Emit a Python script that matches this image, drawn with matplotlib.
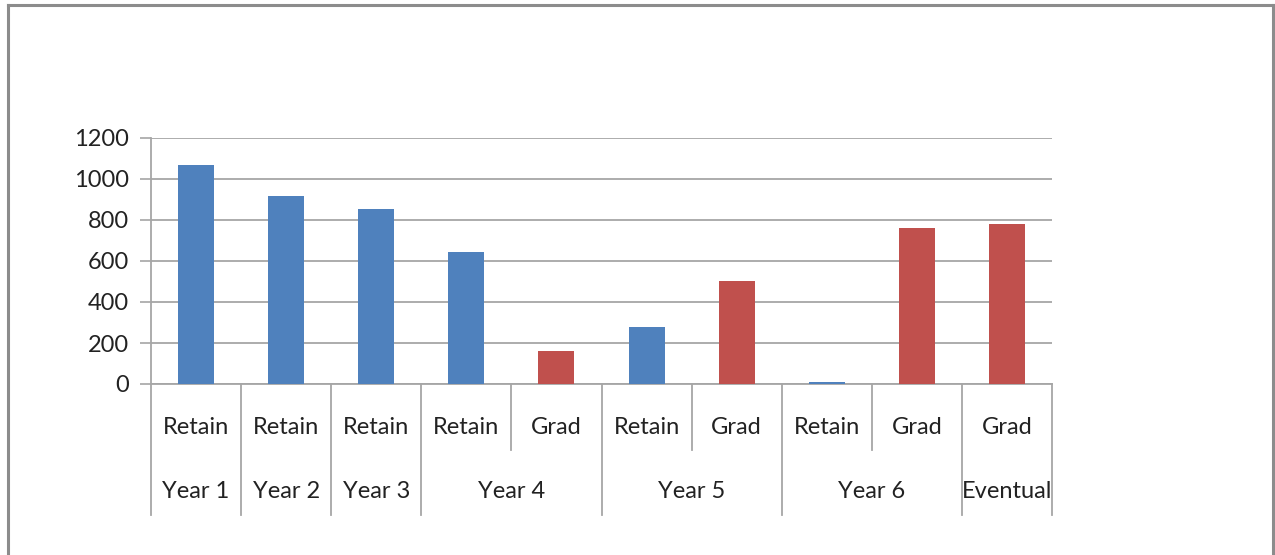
import numpy as np
import matplotlib.pyplot as plt
from matplotlib.lines import Line2D
from matplotlib.transforms import blended_transform_factory

# data
sub_labels = ["Retain", "Retain", "Retain", "Retain", "Grad",
              "Retain", "Grad", "Retain", "Grad", "Grad"]
groups = ["Year 1", "Year 2", "Year 3", "Year 4", "Year 5", "Year 6", "Eventual"]
group_sizes = [1, 1, 1, 2, 2, 2, 1]
values = [1068, 917, 854, 643, 161, 278, 502, 9, 761, 779]
y_ticks = [0, 200, 400, 600, 800, 1000, 1200]

series_colors = {"Retain": "#4F81BD", "Grad": "#C0504D"}
grid_col = "#A6A6A6"
plt.rcParams['font.family'] = ['Lato', 'DejaVu Sans']
fs = 17

fig = plt.figure(figsize=(12.75, 5.55), dpi=100)
ax = fig.add_axes([151/1275, 171/555, 901/1275, 246/555])

x = np.arange(len(values))
cols = [series_colors[s] for s in sub_labels]
ax.bar(x, values, width=0.4, color=cols, zorder=3)

ax.set_xlim(-0.5, len(values) - 0.5)
ax.set_ylim(0, 1200)
ax.set_yticks(y_ticks)
ax.tick_params(axis='y', length=8, width=1.2, color=grid_col, labelsize=fs,
               pad=8, labelcolor='#222222')
ax.set_xticks([])
ax.yaxis.grid(True, color=grid_col, linewidth=1.3, zorder=0)
for s in ['top', 'right']:
    ax.spines[s].set_visible(False)
for s in ['left', 'bottom']:
    ax.spines[s].set_color(grid_col)
    ax.spines[s].set_linewidth(1.3)

# multi-level category axis
tr = blended_transform_factory(ax.transData, ax.transAxes)
short_y, full_y = -0.268, -0.533
for i, lab in enumerate(sub_labels):
    ax.text(i, -0.175, lab, transform=tr, ha='center', va='center',
            fontsize=fs, color='#222222')

bounds = np.concatenate([[0], np.cumsum(group_sizes)])
for b in range(len(values) + 1):
    yb = full_y if b in bounds else short_y
    ax.add_line(Line2D([b - 0.5, b - 0.5], [0, yb], transform=tr,
                       color=grid_col, linewidth=1.3, clip_on=False))
for g, lab in enumerate(groups):
    cx = (bounds[g] + bounds[g + 1] - 1) / 2
    ax.text(cx, -0.439, lab, transform=tr, ha='center', va='center',
            fontsize=fs, color='#222222')

# outer chart frame
fc = '#8C8C8C'
fig.add_artist(Line2D([8/1275, 8/1275], [0, 1 - 5/555], color=fc, linewidth=2.2))
fig.add_artist(Line2D([8/1275, 1273/1275], [1 - 5/555, 1 - 5/555], color=fc, linewidth=2.2))
fig.add_artist(Line2D([1273/1275, 1273/1275], [0, 1 - 5/555], color=fc, linewidth=2.2))

fig.savefig("out.png", dpi=100)
